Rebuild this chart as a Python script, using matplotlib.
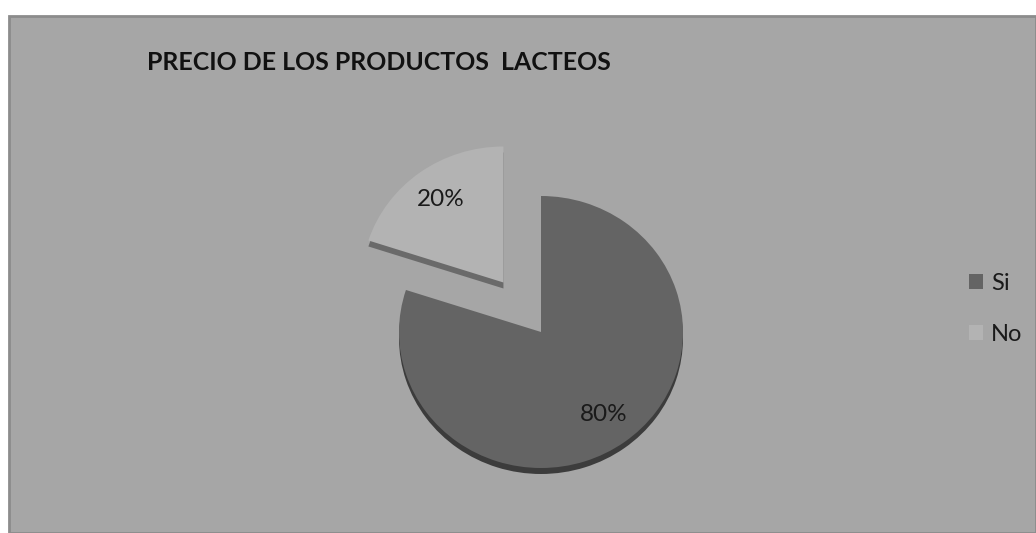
import matplotlib
matplotlib.use("Agg")
import matplotlib.pyplot as plt
from matplotlib.patches import Rectangle
from matplotlib.transforms import ScaledTranslation

title = "PRECIO DE LOS PRODUCTOS  LACTEOS"
categories = ["Si", "No"]
values = [80, 20]
colors = ["#646464", "#b3b3b3"]
side_colors = ["#3c3c3c", "#6a6a6a"]
explode = [0.0, 0.45]

W, H = 1036, 533
fig = plt.figure(figsize=(W / 100, H / 100), dpi=100, facecolor="white")

# chart area background
bg = Rectangle((9 / W, 0), (W - 9) / W, (H - 16) / H, transform=fig.transFigure,
               facecolor="#a6a6a6", edgecolor="#8c8c8c", linewidth=2, zorder=-10)
fig.patches.append(bg)

fig.text(147 / W, 1 - 62 / H, title, fontsize=17.9, fontweight="bold",
         family="Lato", color="#111111", va="center", ha="left")

# pie axes
cx, cy = 541, 332
rx, ry = 142, 136
aw, ah = 600, 400
ax = fig.add_axes([(cx - aw / 2) / W, (H - cy - ah / 2) / H, aw / W, ah / H])
ax.set_axis_off()
ax.set_zorder(5)

# 3D side (shifted copy)
shift = ScaledTranslation(0, -6 / 100, fig.dpi_scale_trans)
sw, _ = ax.pie(values, colors=side_colors, startangle=90, counterclock=False,
               explode=explode)
for w in sw:
    w.set_transform(ax.transData + shift)
    w.set_edgecolor("none")

wedges, texts, autotexts = ax.pie(values, colors=colors, startangle=90,
                                  counterclock=False, explode=explode,
                                  autopct="%1.0f%%", pctdistance=0.75,
                                  textprops=dict(fontsize=17.5, family="Lato",
                                                 color="#1a1a1a"))
for w in wedges:
    w.set_edgecolor("none")

ax.set_aspect("auto")
ax.set_xlim(-aw / 2 / rx, aw / 2 / rx)
ax.set_ylim(-ah / 2 / ry, ah / 2 / ry)

leg = fig.legend(wedges, categories, loc="center left",
                 bbox_to_anchor=(969 / W, 1 - 309 / H), frameon=False,
                 borderaxespad=0, borderpad=0,
                 prop=dict(family="Lato", size=17), handlelength=0.6,
                 handleheight=0.6, handletextpad=0.34, labelspacing=1.25,
                 labelcolor="#1a1a1a")

fig.savefig("out.png", dpi=100, facecolor="white")
